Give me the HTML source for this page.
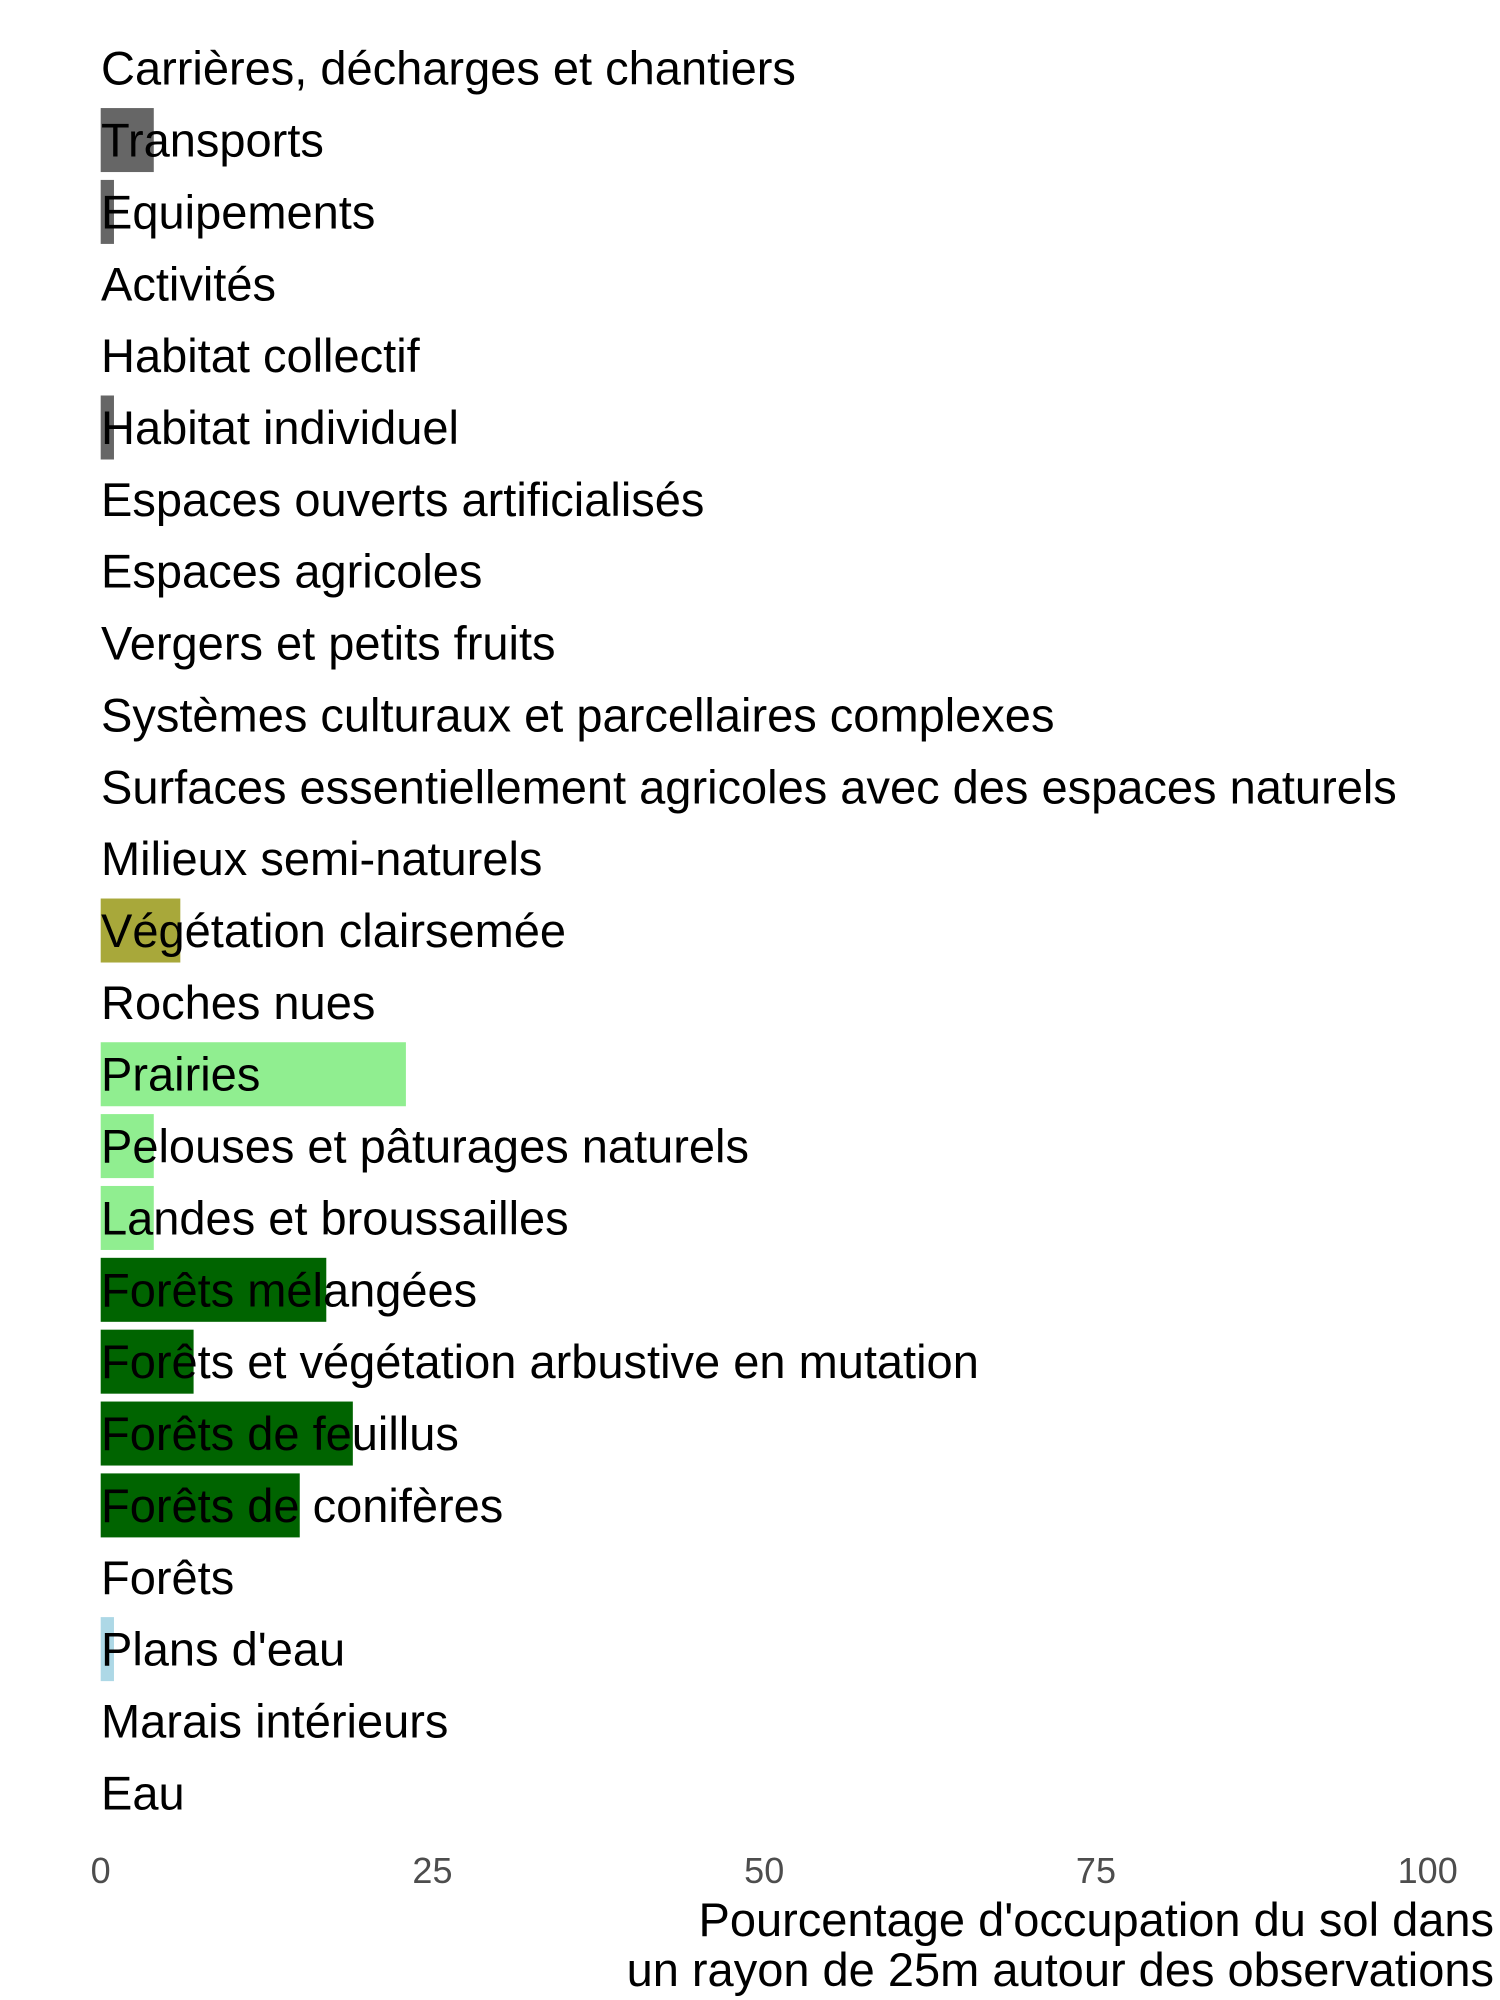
<!DOCTYPE html>
<html><head><meta charset="utf-8">
<style>
html,body{margin:0;padding:0;background:#fff;}
svg{display:block;font-family:"Liberation Sans",Arial,sans-serif;}
</style></head>
<body>
<svg id="chart" width="1500" height="2000" viewBox="0 0 1500 2000" xmlns="http://www.w3.org/2000/svg">
<g id="bars"></g>
<g id="labels"></g>
<g id="xticks"></g>
<text x="1494" y="1936" text-anchor="end" font-size="47" fill="#000">Pourcentage d'occupation du sol dans</text>
<text x="1494" y="1986" text-anchor="end" font-size="47" fill="#000">un rayon de 25m autour des observations</text>
</svg>
<script>
const categories = ["Carrières, décharges et chantiers","Transports","Equipements","Activités","Habitat collectif","Habitat individuel","Espaces ouverts artificialisés","Espaces agricoles","Vergers et petits fruits","Systèmes culturaux et parcellaires complexes","Surfaces essentiellement agricoles avec des espaces naturels","Milieux semi-naturels","Végétation clairsemée","Roches nues","Prairies","Pelouses et pâturages naturels","Landes et broussailles","Forêts mélangées","Forêts et végétation arbustive en mutation","Forêts de feuillus","Forêts de conifères","Forêts","Plans d'eau","Marais intérieurs","Eau"];
const values = [0,4,1,0,0,1,0,0,0,0,0,0,6,0,23,4,4,17,7,19,15,0,1,0,0];
const colors = ["#666666","#666666","#666666","#666666","#666666","#666666","#666666","#666666","#666666","#666666","#666666","#666666","#a8a83a","#a8a83a","#90ee90","#90ee90","#90ee90","#006400","#006400","#006400","#006400","#006400","#add8e6","#add8e6","#add8e6"];
const tickValues = [0,25,50,75,100];
const tickLabels = ["0","25","50","75","100"];

const NS="http://www.w3.org/2000/svg";
const X0=100.7, X1=1427.7;
function xs(v){return X0+(v/100)*(X1-X0);}
const Y0=68.2, PITCH=71.86, BH=64;
function yc(i){return Y0+i*PITCH;}
const gb=document.getElementById('bars'), gl=document.getElementById('labels'), gt=document.getElementById('xticks');
categories.forEach((c,i)=>{
  if(values[i]>0){
    const r=document.createElementNS(NS,'rect');
    
    
    r.setAttribute('x',xs(0));r.setAttribute('y',yc(i)-BH/2);
    r.setAttribute('width',xs(values[i])-xs(0));r.setAttribute('height',BH);
    r.setAttribute('fill',colors[i]);
    gb.appendChild(r);
  }
  const t=document.createElementNS(NS,'text');
  
  
  t.setAttribute('x',101);t.setAttribute('y',yc(i)+16.5);
  t.setAttribute('font-size','47');t.setAttribute('fill','#000');
  t.textContent=c;
  gl.appendChild(t);
});
tickValues.forEach((v,i)=>{
  const t=document.createElementNS(NS,'text');
  
  
  t.setAttribute('x',xs(v));t.setAttribute('y',1883);
  t.setAttribute('text-anchor','middle');t.setAttribute('font-size','36');t.setAttribute('fill','#4d4d4d');
  t.textContent=tickLabels[i];
  gt.appendChild(t);
});
</script>
</body></html>
